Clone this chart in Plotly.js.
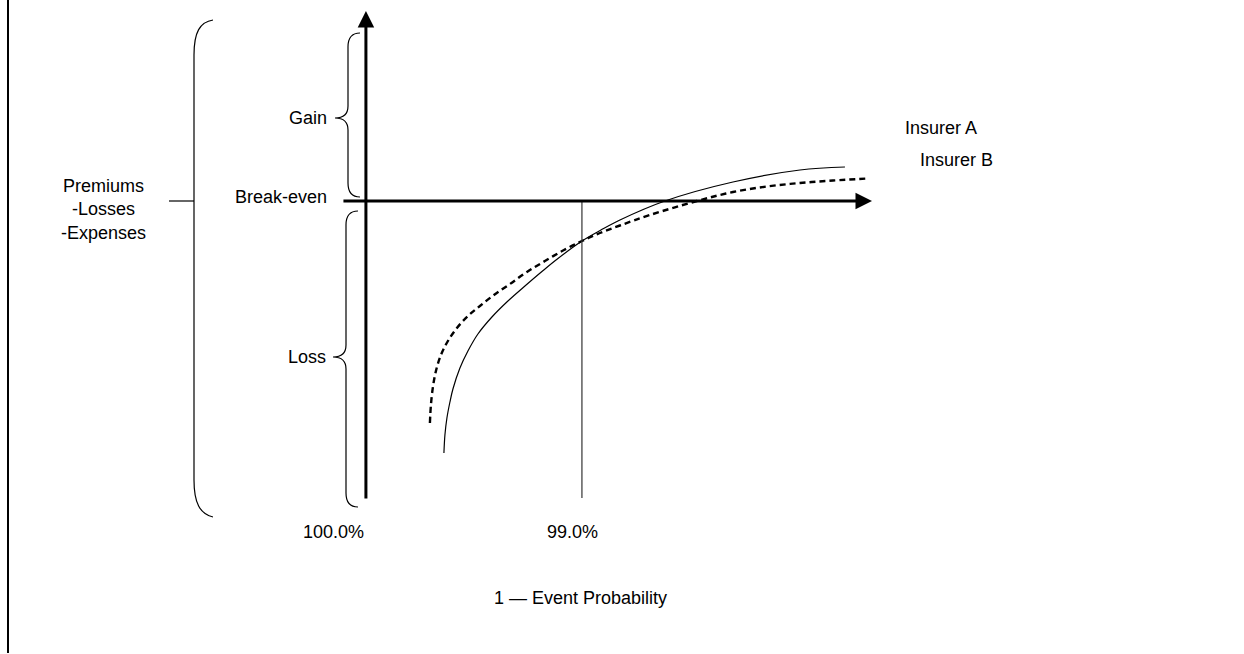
<!DOCTYPE html>
<html>
<head>
<meta charset="utf-8">
<script src="https://cdn.plot.ly/plotly-3.0.1.min.js"></script>
<style>html,body{margin:0;padding:0;background:#fff;}#chart{width:1244px;height:654px;}</style>
</head>
<body>
<div id="chart"></div>
<script>
// x: 1 - event probability (%), y: premiums - losses - expenses (arbitrary units, 0 = break-even)
const insurerA_x = [99.6389, 99.6343, 99.6250, 99.6111, 99.5972, 99.5648, 99.5278, 99.4815, 99.4167, 99.3426, 99.2639, 99.1852, 99.1111, 99.0000, 98.9120, 98.8241, 98.6157, 98.3009, 97.9907, 97.7824];
const insurerA_y = [-2.52, -2.34, -2.17, -2.01, -1.88, -1.67, -1.50, -1.33, -1.16, -1.00, -0.85, -0.705, -0.575, -0.40, -0.29, -0.19, 0.00, 0.19, 0.31, 0.34];
const insurerB_x = [99.7037, 99.6991, 99.6898, 99.6759, 99.6528, 99.6204, 99.5787, 99.5278, 99.4722, 99.4074, 99.3333, 99.2546, 99.1713, 99.0833, 99.0000, 98.9167, 98.8241, 98.6852, 98.4676, 98.3009, 98.1435, 97.9907, 97.8380, 97.6759];
const insurerB_y = [-2.22, -2.04, -1.86, -1.70, -1.54, -1.40, -1.27, -1.15, -1.05, -0.94, -0.83, -0.71, -0.60, -0.49, -0.40, -0.32, -0.245, -0.14, 0.00, 0.09, 0.145, 0.18, 0.205, 0.225];
const tickValues = [100, 99];
const tickLabels = ['100.0%', '99.0%'];
const seriesNames = ['Insurer A', 'Insurer B'];

const FONT = {family: 'Liberation Sans, Arial, sans-serif', size: 18, color: '#000'};

const traces = [
  {x: insurerA_x, y: insurerA_y, name: seriesNames[0], mode: 'lines', type: 'scatter',
   line: {color: '#000', width: 1.2, shape: 'spline', smoothing: 1}, hoverinfo: 'skip'},
  {x: insurerB_x, y: insurerB_y, name: seriesNames[1], mode: 'lines', type: 'scatter',
   line: {color: '#000', width: 2.4, dash: '6px,4px', shape: 'spline', smoothing: 1}, hoverinfo: 'skip'}
];

const pix = {xref: 'x2', yref: 'y2'};
const shapes = [
  // frame line at left
  Object.assign({type: 'line', x0: 8, x1: 8, y0: 0, y1: 653, line: {color: '#000', width: 2}}, pix),
  // big bracket
  Object.assign({type: 'path', path: 'M213,20 C200,22 194,32 194,55 L194,480 C194,503 200,514 213,517', line: {color: '#000', width: 1.2}}, pix),
  Object.assign({type: 'line', x0: 169, x1: 194, y0: 201, y1: 201, line: {color: '#000', width: 1.2}}, pix),
  // gain brace
  Object.assign({type: 'path', path: 'M360,33 Q348,33 348,47 L348,106 Q348,118 335,118 Q348,118 348,130 L348,183 Q348,197 360,197', line: {color: '#000', width: 1.2}}, pix),
  // loss brace
  Object.assign({type: 'path', path: 'M358,211 Q346,211 346,225 L346,345 Q346,357 333,357 Q346,357 346,369 L346,493 Q346,507 358,507', line: {color: '#000', width: 1.2}}, pix),
  // 99% marker line
  {type: 'line', xref: 'x', yref: 'y', x0: tickValues[1], x1: tickValues[1], y0: 0, y1: -2.97, line: {color: '#333', width: 1.2}}
];

const annotations = [
  // axes arrows
  {xref: 'x', yref: 'y', axref: 'x', ayref: 'y', x: 97.657, y: 0, ax: 100.111, ay: 0, text: '', showarrow: true,
   arrowhead: 2, arrowsize: 1.1, arrowwidth: 3, arrowcolor: '#000', standoff: 0},
  {xref: 'x', yref: 'y', axref: 'x', ayref: 'y', x: 100, y: 1.90, ax: 100, ay: -2.99, text: '', showarrow: true,
   arrowhead: 2, arrowsize: 1.1, arrowwidth: 3, arrowcolor: '#000', standoff: 0},
  // tick labels
  {xref: 'x', yref: 'y2', x: tickValues[0], y: 532, text: tickLabels[0], showarrow: false, xanchor: 'right', yanchor: 'middle', font: FONT},
  {xref: 'x', yref: 'y2', x: tickValues[1], y: 532, text: tickLabels[1], showarrow: false, xanchor: 'center', yanchor: 'middle', xshift: -9, font: FONT},
  // axis titles
  {xref: 'x2', yref: 'y2', x: 580, y: 598, text: '1 \u2014 Event Probability', showarrow: false, xanchor: 'center', yanchor: 'middle', font: FONT},
  {xref: 'x2', yref: 'y2', x: 103, y: 209, text: 'Premiums<br>-Losses<br>-Expenses', showarrow: false, xanchor: 'center', yanchor: 'middle', align: 'center', font: FONT},
  // brace labels
  {xref: 'x2', yref: 'y2', x: 329, y: 118, text: 'Gain', showarrow: false, xanchor: 'right', yanchor: 'middle', font: FONT},
  {xref: 'x2', yref: 'y2', x: 329, y: 197, text: 'Break-even', showarrow: false, xanchor: 'right', yanchor: 'middle', font: FONT},
  {xref: 'x2', yref: 'y2', x: 328, y: 357, text: 'Loss', showarrow: false, xanchor: 'right', yanchor: 'middle', font: FONT},
  // series labels
  {xref: 'x2', yref: 'y2', x: 903, y: 128, text: seriesNames[0], showarrow: false, xanchor: 'left', yanchor: 'middle', font: FONT},
  {xref: 'x2', yref: 'y2', x: 918, y: 160, text: seriesNames[1], showarrow: false, xanchor: 'left', yanchor: 'middle', font: FONT}
];

const layout = {
  width: 1244, height: 654,
  margin: {l: 0, r: 0, t: 0, b: 0, pad: 0},
  paper_bgcolor: '#fff', plot_bgcolor: '#fff',
  showlegend: false,
  xaxis: {range: [101.694, 95.935], visible: false, fixedrange: true},
  yaxis: {range: [-4.53, 2.01], visible: false, fixedrange: true},
  xaxis2: {range: [0, 1244], overlaying: 'x', anchor: 'y2', visible: false, fixedrange: true},
  yaxis2: {range: [654, 0], overlaying: 'y', anchor: 'x2', visible: false, fixedrange: true},
  shapes: shapes,
  annotations: annotations,
  font: FONT
};

Plotly.newPlot('chart', traces, layout, {displayModeBar: false, staticPlot: true});
</script>
</body>
</html>
